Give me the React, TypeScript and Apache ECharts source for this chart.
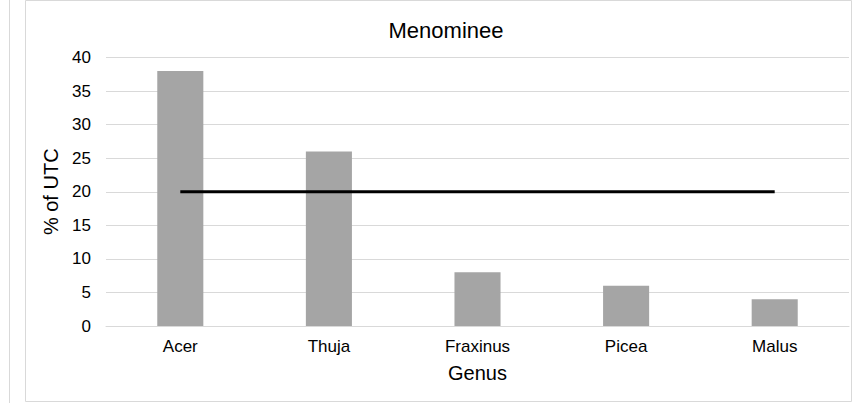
import React, { useEffect, useRef } from "react";
import * as echarts from "echarts";

const categories = ["Acer", "Thuja", "Fraxinus", "Picea", "Malus"];
const utcValues = [38, 26, 8, 6, 4];
const referenceValues = [20, 20, 20, 20, 20];
const yTicks = { min: 0, max: 40, interval: 5 };

export default function App() {
  const ref = useRef<HTMLDivElement>(null);
  useEffect(() => {
    const chart = echarts.init(ref.current!, null, { renderer: "svg" });
    const font = "'Liberation Sans', Arial, sans-serif";
    chart.setOption({
      animation: false,
      backgroundColor: "#ffffff",
      title: {
        text: "Menominee",
        left: 441,
        textAlign: "center",
        top: 14,
        textStyle: { fontFamily: font, fontSize: 22, fontWeight: "normal", color: "#000" },
      },
      graphic: [
        { type: "line", shape: { x1: 9.5, y1: 0, x2: 9.5, y2: 403 }, style: { stroke: "#d9d9d9", lineWidth: 1 } },
        { type: "rect", shape: { x: 25.5, y: 0.5, width: 826, height: 401 }, style: { fill: "none", stroke: "#d9d9d9", lineWidth: 1 } },
      ],
      grid: { left: 106, right: 4, top: 57.5, bottom: 77, containLabel: false },
      xAxis: {
        type: "category",
        data: categories,
        name: "Genus",
        nameLocation: "middle",
        nameGap: 37,
        nameTextStyle: { fontFamily: font, fontSize: 20, color: "#000" },
        axisLine: { lineStyle: { color: "#d9d9d9" } },
        axisTick: { show: false },
        axisLabel: { fontFamily: font, fontSize: 17, color: "#000", margin: 12 },
      },
      yAxis: {
        type: "value",
        min: yTicks.min,
        max: yTicks.max,
        interval: yTicks.interval,
        name: "% of UTC",
        nameLocation: "middle",
        nameGap: 41,
        nameTextStyle: { fontFamily: font, fontSize: 20, color: "#000" },
        axisLine: { show: false },
        axisTick: { show: false },
        splitLine: { lineStyle: { color: "#d9d9d9" } },
        axisLabel: { fontFamily: font, fontSize: 17, color: "#000", margin: 15 },
      },
      series: [
        {
          type: "bar",
          data: utcValues,
          barWidth: "31%",
          itemStyle: { color: "#a5a5a5" },
        },
        {
          type: "line",
          data: referenceValues,
          symbol: "none",
          lineStyle: { color: "#000", width: 3 },
        },
      ],
    });
    return () => chart.dispose();
  }, []);
  return <div ref={ref} style={{ position: "absolute", left: 0, top: 0, width: 853, height: 403 }} />;
}
